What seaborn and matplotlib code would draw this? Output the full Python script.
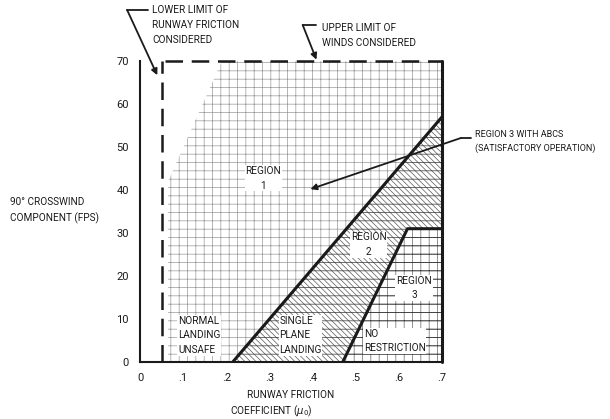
import numpy as np
import pandas as pd
import seaborn as sns
import matplotlib.pyplot as plt

# axis ticks
mu_ticks = [0, 0.1, 0.2, 0.3, 0.4, 0.5, 0.6, 0.7]
mu_tick_labels = ['0', '.1', '.2', '.3', '.4', '.5', '.6', '.7']
wind_ticks = [0, 10, 20, 30, 40, 50, 60, 70]

# limits considered
mu_min = 0.05
mu_max = 0.70
wind_max = 70

# region 1 / region 2 boundary
mu_12 = [0.215, 0.70]
wind_12 = [0, 57]
# region 2 / region 3 boundary
mu_23 = [0.47, 0.62, 0.70]
wind_23 = [0, 31, 31]
# left edge of the region 1 shading
mu_r1_edge = [0.065, 0.065, 0.19]
wind_r1_edge = [0, 42, 70]

sns.set_theme(style='white')
plt.rcParams['font.family'] = ['Roboto', 'DejaVu Sans']
plt.rcParams['hatch.linewidth'] = 0.5

fig = plt.figure(figsize=(6.1, 4.19), dpi=100)
ax = fig.add_axes([140 / 610, 1 - 362 / 419, 302 / 610, 301 / 419])

# region shading
r1_x = mu_r1_edge + [mu_max, mu_max] + mu_12[::-1]
r1_y = wind_r1_edge + [wind_max, wind_12[1]] + wind_12[::-1]
ax.fill(r1_x, r1_y, facecolor='none', edgecolor='0.6', hatch='++', lw=0)

r2_x = mu_12 + mu_23[::-1]
r2_y = wind_12 + wind_23[::-1]
ax.fill(r2_x, r2_y, facecolor='none', edgecolor='0.35', hatch='\\\\\\\\\\\\', lw=0)
ax.fill(r2_x, r2_y, facecolor='none', edgecolor='0.2', hatch='--', lw=0)

r3_x = mu_23 + [mu_max]
r3_y = wind_23 + [0]
ax.fill(r3_x, r3_y, facecolor='none', edgecolor='0.4', hatch='++', lw=0)
ax.fill(r3_x, r3_y, facecolor='none', edgecolor='0.15', hatch='--', lw=0)

# boundaries
sns.lineplot(x=mu_12, y=wind_12, ax=ax, color='k', lw=2.2, sort=False)
sns.lineplot(x=mu_23, y=wind_23, ax=ax, color='k', lw=2.2, sort=False)
ax.plot([mu_max, mu_max], [0, wind_max], color='k', lw=2.2, clip_on=False)
ax.plot([mu_min, mu_min], [0, wind_max], color='k', lw=1.8,
        ls=(0, (7, 3.5)), clip_on=False)
ax.plot([0.058, mu_max], [wind_max, wind_max], color='k', lw=1.8,
        ls=(0, (7, 3.5)), clip_on=False)

ax.set_xlim(0, 0.7)
ax.set_ylim(0, 70)
ax.set_xticks(mu_ticks)
ax.set_xticklabels(mu_tick_labels)
ax.set_yticks(wind_ticks)
ax.tick_params(axis='both', direction='out', length=5, width=1.2,
               colors='k', labelsize=8, pad=3)
for s in ['top', 'right']:
    ax.spines[s].set_visible(False)
for s in ['left', 'bottom']:
    ax.spines[s].set_color('k')
    ax.spines[s].set_linewidth(1.5)

box = dict(facecolor='white', edgecolor='none', pad=0.5)
tk = dict(fontsize=7.2, color='k')
ax.text(0.286, 42.7, 'REGION\n1', ha='center', va='center', linespacing=1.6, bbox=box, **tk)
ax.text(0.53, 27.3, 'REGION\n2', ha='center', va='center', linespacing=1.6, bbox=box, **tk)
ax.text(0.635, 17.2, 'REGION\n3', ha='center', va='center', linespacing=1.6, bbox=box, **tk)
ax.text(0.519, 4.9, 'NO\nRESTRICTION', ha='left', va='center', linespacing=1.6, bbox=box, **tk)
ax.text(0.323, 6.2, 'SINGLE\nPLANE\nLANDING', ha='left', va='center', linespacing=1.6, bbox=box, **tk)
ax.text(0.088, 6.2, 'NORMAL\nLANDING\nUNSAFE', ha='left', va='center', linespacing=1.6, bbox=box, **tk)

# callouts
arrow = dict(arrowstyle='-|>', color='k', lw=1.3, shrinkA=0, shrinkB=0, mutation_scale=9)
ax.text(0.028, 78.4, 'LOWER LIMIT OF\nRUNWAY FRICTION\nCONSIDERED', ha='left', va='center',
        linespacing=1.6, **tk)
ax.plot([-0.030, 0.019], [81.9, 81.9], color='k', lw=1.3, clip_on=False)
ax.annotate('', xy=(0.040, 66.7), xytext=(-0.030, 81.9), arrowprops=arrow,
            annotation_clip=False)

ax.text(0.423, 76.0, 'UPPER LIMIT OF\nWINDS CONSIDERED', ha='left', va='center',
        linespacing=1.6, **tk)
ax.plot([0.377, 0.409], [78.4, 78.4], color='k', lw=1.3, clip_on=False)
ax.annotate('', xy=(0.409, 70.3), xytext=(0.377, 78.4), arrowprops=arrow,
            annotation_clip=False)

ax.text(0.777, 51.2, 'REGION 3 WITH ABCS\n(SATISFACTORY OPERATION)', ha='left', va='center',
        linespacing=1.6, fontsize=6.5, color='k')
ax.plot([0.744, 0.767], [52.1, 52.1], color='k', lw=1.3, clip_on=False)
ax.annotate('', xy=(0.395, 40.2), xytext=(0.744, 52.1), arrowprops=arrow,
            annotation_clip=False)

# axis titles
ax.text(-0.302, 35.2, '90\u00b0 CROSSWIND\nCOMPONENT (FPS)', ha='left', va='center',
        linespacing=1.6, **tk)
ax.text(0.249, -7.7, 'RUNWAY FRICTION', ha='left', va='center', **tk)
ax.text(0.209, -11.6, r'COEFFICIENT ($\mu_0$)', ha='left', va='center', **tk)

fig.savefig('out.png', dpi=100)
